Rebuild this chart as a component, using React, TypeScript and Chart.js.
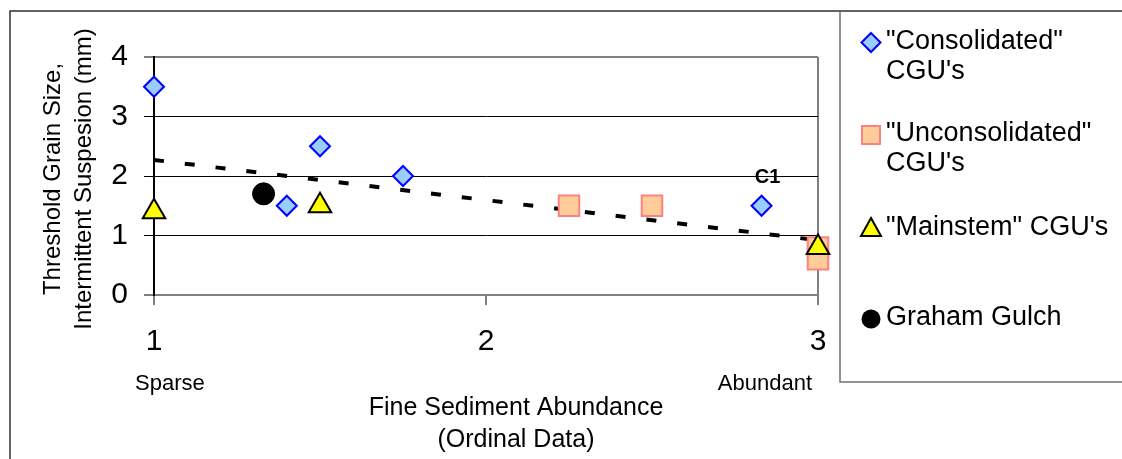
import React, { useEffect, useRef } from 'react';
import { Chart, registerables } from 'chart.js';

Chart.register(...registerables);

// ---- data ----
const consolidatedX = [1, 1.4, 1.5, 1.75, 2.83];
const consolidatedY = [3.5, 1.5, 2.5, 2.0, 1.5];
const unconsolidatedX = [2.25, 2.5, 3, 3];
const unconsolidatedY = [1.5, 1.5, 0.8, 0.6];
const mainstemX = [1, 1.5, 3];
const mainstemY = [1.4, 1.5, 0.8];
const grahamX = [1.33];
const grahamY = [1.7];
const trendX = [1, 3];
const trendY = [2.27, 0.92];

const legendLines = [
  ['"Consolidated"', "CGU's"],
  ['"Unconsolidated"', "CGU's"],
  ['"Mainstem" CGU\'s'],
  ['Graham Gulch'],
];
const xTickValues = [1, 2, 3];
const yTickValues = [0, 1, 2, 3, 4];
const ordinalLabels = ['Sparse', 'Abundant'];
const xTitle = ['Fine Sediment Abundance', '(Ordinal Data)'];
const yTitle = ['Threshold Grain Size,', 'Intermittent Suspesion (mm)'];
const annotationLabel = 'C1';
const annotationIndex = 4;

const FONT = '"Liberation Sans", Arial, Helvetica, sans-serif';

const toPts = (xs: number[], ys: number[]) => xs.map((x, i) => ({ x, y: ys[i] }));

const decorPlugin = {
  id: 'decor',
  beforeDraw(chart: any) {
    const ctx = chart.ctx;
    ctx.save();
    ctx.fillStyle = '#ffffff';
    ctx.fillRect(0, 0, chart.width, chart.height);
    ctx.restore();
  },
  afterDraw(chart: any) {
    const ctx: CanvasRenderingContext2D = chart.ctx;
    const xs = chart.scales.x;
    ctx.save();

    // outer frame
    ctx.strokeStyle = '#303030';
    ctx.lineWidth = 1.5;
    ctx.beginPath();
    ctx.moveTo(10, 459);
    ctx.lineTo(10, 11);
    ctx.lineTo(1122, 11);
    ctx.stroke();

    // legend box
    ctx.strokeStyle = '#707070';
    ctx.beginPath();
    ctx.moveTo(840, 11);
    ctx.lineTo(840, 382);
    ctx.lineTo(1122, 382);
    ctx.stroke();

    // legend entries
    const mx = 871;
    const tx = 886;
    ctx.font = `27px ${FONT}`;
    ctx.fillStyle = '#000';
    ctx.textAlign = 'left';
    ctx.textBaseline = 'middle';
    const rows = [
      { my: 42.5, ys: [42, 72] },
      { my: 135, ys: [134, 164] },
      { my: 228, ys: [228] },
      { my: 319, ys: [318] },
    ];
    rows.forEach((r, i) => {
      legendLines[i].forEach((t, j) => ctx.fillText(t, tx, r.ys[j]));
    });
    // diamond
    ctx.beginPath();
    ctx.moveTo(mx, rows[0].my - 9.5);
    ctx.lineTo(mx + 9.5, rows[0].my);
    ctx.lineTo(mx, rows[0].my + 9.5);
    ctx.lineTo(mx - 9.5, rows[0].my);
    ctx.closePath();
    ctx.fillStyle = '#99CCFF';
    ctx.fill();
    ctx.strokeStyle = '#0000FF';
    ctx.lineWidth = 2;
    ctx.stroke();
    // square
    ctx.beginPath();
    ctx.rect(mx - 9, rows[1].my - 9, 18, 18);
    ctx.fillStyle = '#FFCC99';
    ctx.fill();
    ctx.strokeStyle = '#FF8080';
    ctx.stroke();
    // triangle
    ctx.beginPath();
    ctx.moveTo(mx, rows[2].my - 10);
    ctx.lineTo(mx + 10, rows[2].my + 8);
    ctx.lineTo(mx - 10, rows[2].my + 8);
    ctx.closePath();
    ctx.fillStyle = '#FFFF00';
    ctx.fill();
    ctx.strokeStyle = '#000';
    ctx.stroke();
    // circle
    ctx.beginPath();
    ctx.arc(mx, rows[3].my, 9.5, 0, Math.PI * 2);
    ctx.fillStyle = '#000';
    ctx.fill();

    // ordinal labels
    ctx.fillStyle = '#000';
    ctx.font = `22px ${FONT}`;
    ctx.textBaseline = 'middle';
    ctx.textAlign = 'left';
    ctx.fillText(ordinalLabels[0], xs.getPixelForValue(xTickValues[0]) - 19, 384);
    ctx.textAlign = 'right';
    ctx.fillText(ordinalLabels[1], xs.getPixelForValue(xTickValues[2]) - 6, 384);

    // x title
    ctx.font = `25px ${FONT}`;
    ctx.textAlign = 'center';
    ctx.fillText(xTitle[0], 516, 408);
    ctx.fillText(xTitle[1], 516, 440);

    // y title
    ctx.save();
    ctx.translate(53, 179);
    ctx.rotate(-Math.PI / 2);
    ctx.font = `24px ${FONT}`;
    ctx.textAlign = 'center';
    ctx.textBaseline = 'middle';
    ctx.fillText(yTitle[0], 0, 0);
    ctx.fillText(yTitle[1], 0, 31);
    ctx.restore();

    // C1 annotation
    const meta = chart.getDatasetMeta(1);
    const pt = meta.data[annotationIndex];
    if (pt) {
      ctx.font = `bold 20px ${FONT}`;
      ctx.textAlign = 'center';
      ctx.textBaseline = 'middle';
      ctx.fillStyle = '#000';
      ctx.fillText(annotationLabel, pt.x + 6, pt.y - 28);
    }
    ctx.restore();
  },
};

export default function App() {
  const ref = useRef<HTMLCanvasElement>(null);
  useEffect(() => {
    const canvas = ref.current;
    if (!canvas) return;
    const chart = new Chart(canvas, {
      type: 'scatter',
      data: {
        datasets: [
          {
            label: 'Trend',
            data: toPts(trendX, trendY),
            showLine: true,
            borderColor: '#000',
            borderWidth: 4,
            borderDash: [10, 21],
            borderCapStyle: 'butt',
            pointRadius: 0,
            pointHoverRadius: 0,
            fill: false,
            order: 10,
            clip: false,
          } as any,
          {
            label: 'Consolidated',
            data: toPts(consolidatedX, consolidatedY),
            pointStyle: 'rectRot',
            pointRadius: 10,
            pointHoverRadius: 10,
            backgroundColor: '#99CCFF',
            borderColor: '#0000FF',
            borderWidth: 2,
            order: 3,
            clip: false,
          },
          {
            label: 'Unconsolidated',
            data: toPts(unconsolidatedX, unconsolidatedY),
            pointStyle: 'rect',
            pointRadius: 14.5,
            pointHoverRadius: 14.5,
            backgroundColor: '#FFCC99',
            borderColor: '#FF8080',
            borderWidth: 2,
            order: 4,
            clip: false,
          },
          {
            label: 'Mainstem',
            data: toPts(mainstemX, mainstemY),
            pointStyle: 'triangle',
            pointRadius: 13,
            pointHoverRadius: 13,
            backgroundColor: '#FFFF00',
            borderColor: '#000',
            borderWidth: 2,
            order: 2,
            clip: false,
          },
          {
            label: 'Graham Gulch',
            data: toPts(grahamX, grahamY),
            pointStyle: 'circle',
            pointRadius: 11,
            pointHoverRadius: 11,
            backgroundColor: '#000',
            borderColor: '#000',
            borderWidth: 1,
            order: 1,
            clip: false,
          },
        ],
      },
      options: {
        responsive: false,
        animation: false,
        devicePixelRatio: 1,
        layout: { padding: { left: 0, top: 57, right: 304, bottom: 0 } },
        plugins: { legend: { display: false }, tooltip: { enabled: false } },
        events: [],
        scales: {
          x: {
            type: 'linear',
            min: 1,
            max: 3,
            afterFit: (s: any) => { s.height = 164; },
            afterBuildTicks: (s: any) => { s.ticks = xTickValues.map((v) => ({ value: v })); },
            ticks: { padding: 19, color: '#000', font: { family: FONT, size: 30 }, maxRotation: 0, autoSkip: false },
            grid: {
              color: (c: any) => (c.tick && c.tick.value === 3 ? '#808080' : 'rgba(0,0,0,0)'),
              lineWidth: 2,
              tickColor: '#000',
              tickWidth: 1,
              tickLength: 10,
              drawTicks: true,
            },
            border: { display: true, color: '#808080', width: 2 },
          },
          y: {
            type: 'linear',
            min: 0,
            max: 4,
            afterFit: (s: any) => { s.width = 154; },
            afterBuildTicks: (s: any) => { s.ticks = yTickValues.map((v) => ({ value: v })); },
            ticks: { padding: 16, color: '#000', font: { family: FONT, size: 30 } },
            grid: {
              color: (c: any) => (c.tick && (c.tick.value === 0 || c.tick.value === 4) ? '#808080' : '#000'),
              lineWidth: (c: any) => (c.tick && (c.tick.value === 0 || c.tick.value === 4) ? 2 : 1),
              tickColor: '#000',
              tickWidth: 1,
              tickLength: 10,
              drawTicks: true,
            },
            border: { display: true, color: '#000', width: 2 },
          },
        },
      },
      plugins: [decorPlugin],
    } as any);
    return () => chart.destroy();
  }, []);
  return (
    <div style={{ position: 'absolute', left: 0, top: 0, width: 1122, height: 459 }}>
      <canvas ref={ref} width={1122} height={459} style={{ width: 1122, height: 459, display: 'block' }} />
    </div>
  );
}
